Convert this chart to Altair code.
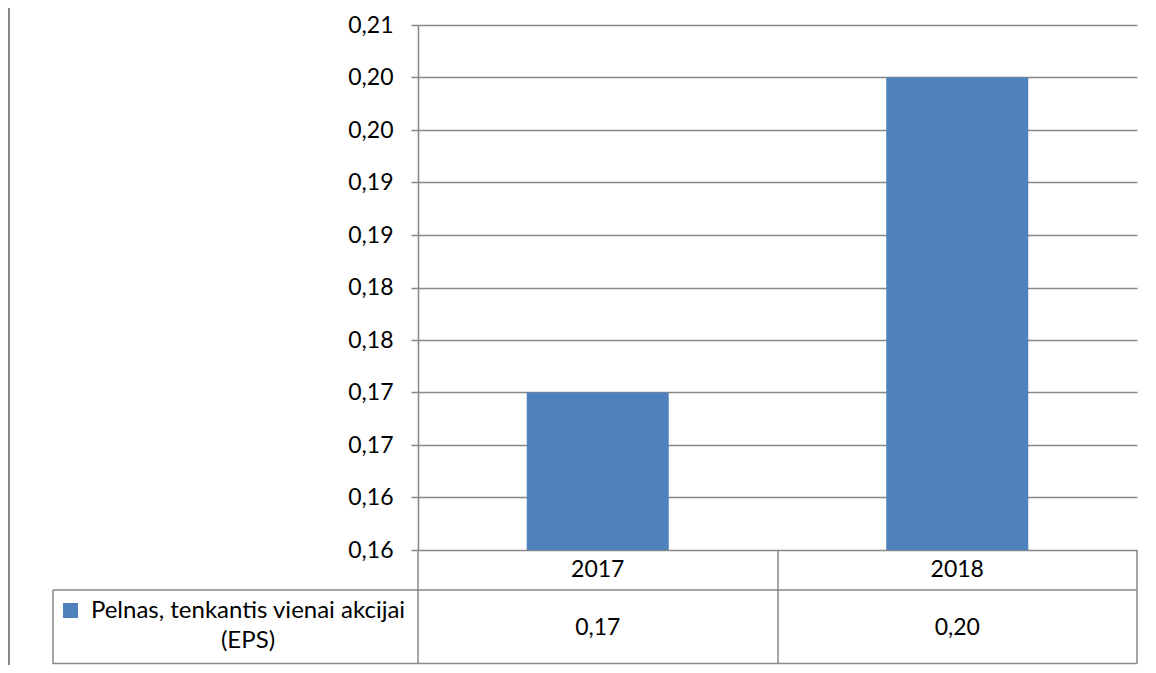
import altair as alt
import pandas as pd

# ---- data ----
years = ["2017", "2018"]
eps_values = [0.17, 0.20]
series_name = ["Pelnas, tenkantis vienai akcijai", "(EPS)"]
y_tick_values = [0.155, 0.16, 0.165, 0.17, 0.175, 0.18, 0.185, 0.19, 0.195, 0.20, 0.205]
y_tick_labels = ["0,16", "0,16", "0,17", "0,17", "0,18", "0,18", "0,19", "0,19", "0,20", "0,20", "0,21"]
y_min, y_max = 0.155, 0.205

df = pd.DataFrame({"year": years, "eps": eps_values})
one = pd.DataFrame({"k": [0]})  # single row for decorations (drawn once)

FONT = "Lato"
FS = 23
GRID = "#878787"
BAR = "#4F81BD"

label_expr = "[" + ",".join("'%s'" % s for s in y_tick_labels) + "][round((datum.value - %s) / 0.005)]" % y_min

xscale = alt.Scale(paddingInner=0.605, paddingOuter=0.3025)
base = alt.Chart(df)

bars = base.mark_bar(color=BAR).encode(
    x=alt.X("year:N", scale=xscale, axis=None),
    y=alt.Y(
        "eps:Q",
        scale=alt.Scale(domain=[y_min, y_max], nice=False, zero=False),
        axis=alt.Axis(
            values=y_tick_values,
            labelExpr=label_expr,
            title=None,
            grid=True,
            gridColor=GRID,
            gridWidth=1.5,
            domainColor=GRID,
            domainWidth=1.5,
            tickColor=GRID,
            tickWidth=1.5,
            tickSize=7,
            labelPadding=18,
            labelFont=FONT,
            labelFontSize=FS,
            labelColor="#000000",
        ),
    ),
    y2=alt.datum(y_min),
)

year_text = base.mark_text(font=FONT, fontSize=FS, color="#000000", baseline="middle").encode(
    x=alt.X("year:N", scale=xscale, axis=None),
    y=alt.value(545),
    text="year:N",
)

value_text = base.transform_calculate(
    lbl="replace(format(datum.eps, '.2f'), '.', ',')"
).mark_text(font=FONT, fontSize=FS, color="#000000", baseline="middle").encode(
    x=alt.X("year:N", scale=xscale, axis=None),
    y=alt.value(603),
    text="lbl:N",
)

def hline(y, x1, x2, w=1.5):
    return alt.Chart(one).mark_rule(color=GRID, strokeWidth=w).encode(
        x=alt.value(x1), x2=alt.value(x2), y=alt.value(y)
    )

def vline(x, y1, y2, w=1.5):
    return alt.Chart(one).mark_rule(color=GRID, strokeWidth=w).encode(
        x=alt.value(x), y=alt.value(y1), y2=alt.value(y2)
    )

table_lines = [
    hline(565, -365, 719),
    hline(638.5, -365, 719),
    vline(-365, 565, 639),
    vline(0, 525, 639),
    vline(360, 525, 639),
    vline(719, 525, 639),
    vline(-409, -17, 640, 2),
]

legend_key = alt.Chart(one).mark_rect(color=BAR).encode(
    x=alt.value(-355), x2=alt.value(-340), y=alt.value(578), y2=alt.value(593)
)
legend_text = alt.Chart(one).mark_text(
    font=FONT, fontSize=24, color="#000000",
    align="center", baseline="middle", lineHeight=30.5
).encode(
    x=alt.value(-170), y=alt.value(585.5), text=alt.value(series_name)
)

chart = alt.layer(
    bars, year_text, value_text, legend_key, legend_text, *table_lines
).properties(
    width=719,
    height=525,
    padding={"left": 410, "top": 17, "right": 11, "bottom": 115},
    autosize=alt.AutoSizeParams(type="none"),
).configure_view(stroke=None)

chart.save("out.html", embed_options={"renderer": "svg", "actions": False})
